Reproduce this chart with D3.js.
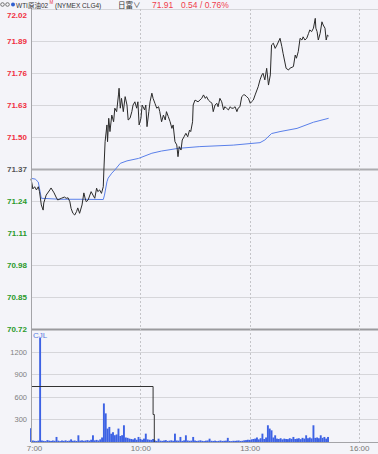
<!DOCTYPE html>
<html>
<head>
<meta charset="utf-8">
<script src="https://cdn.jsdelivr.net/npm/d3@7"></script>
<style>
body { margin: 0; background: #f4f4f9; }
svg { display: block; font-family: "Liberation Sans", Arial, sans-serif; }
</style>
</head>
<body>
<svg width="378" height="454"></svg>
<script>
// price ticks / time ticks / volume ticks
let priceTicks = [72.02, 71.89, 71.76, 71.63, 71.50, 71.37, 71.24, 71.11, 70.98, 70.85, 70.72];
let prevClose = 71.37;
let volTicks = [300, 600, 900, 1200];
let timeTicks = ["7:00", "10:00", "13:00", "16:00"];

// last price (time, price)
let priceSeries = [
  ["7:00",71.33],["7:02",71.305],["7:03",71.289],["7:06",71.298],["7:09",71.285],["7:12",71.298],["7:14",71.278],["7:17",71.224],["7:20",71.203],["7:21",71.232],
  ["7:25",71.264],["7:31",71.285],["7:33",71.293],["7:38",71.273],["7:42",71.252],["7:44",71.244],["7:50",71.251],["7:55",71.256],["7:58",71.251],["8:01",71.253],
  ["8:04",71.237],["8:06",71.21],["8:09",71.19],["8:12",71.183],["8:15",71.197],["8:17",71.212],["8:20",71.19],["8:24",71.224],["8:27",71.273],["8:29",71.252],
  ["8:31",71.237],["8:34",71.244],["8:39",71.278],["8:42",71.264],["8:45",71.251],["8:48",71.292],["8:50",71.278],["8:53",71.285],["8:56",71.271],["8:59",71.298],
  ["9:00",71.366],["9:02",71.481],["9:05",71.549],["9:06",71.481],["9:08",71.576],["9:10",71.522],["9:13",71.589],["9:16",71.562],["9:18",71.617],["9:21",71.603],
  ["9:24",71.671],["9:25",71.698],["9:27",71.617],["9:29",71.657],["9:32",71.603],["9:35",71.664],["9:38",71.63],["9:40",71.569],["9:43",71.576],["9:46",71.603],
  ["9:48",71.63],["9:51",71.643],["9:54",71.617],["9:56",71.643],["9:58",71.549],["10:01",71.576],["10:03",71.63],["10:07",71.61],["10:09",71.63],["10:11",71.542],
  ["10:14",71.603],["10:16",71.643],["10:19",71.678],["10:21",71.657],["10:24",71.637],["10:27",71.617],["10:30",71.623],["10:32",71.603],["10:35",71.562],["10:38",71.589],
  ["10:41",71.569],["10:43",71.603],["10:46",71.583],["10:49",71.562],["10:52",71.535],["10:54",71.549],["10:57",71.481],["11:00",71.468],["11:02",71.42],["11:04",71.461],
  ["11:07",71.447],["11:09",71.488],["11:12",71.501],["11:15",71.515],["11:18",71.501],["11:21",71.528],["11:23",71.522],["11:26",71.562],["11:27",71.63],["11:30",71.65],
  ["11:35",71.643],["11:41",71.657],["11:44",71.671],["11:47",71.657],["11:49",71.664],["11:52",71.65],["11:55",71.643],["11:58",71.637],["12:00",71.603],["12:03",71.63],
  ["12:06",71.637],["12:08",71.623],["12:11",71.657],["12:14",71.643],["12:17",71.61],["12:19",71.623],["12:22",71.617],["12:25",71.61],["12:28",71.623],["12:30",71.617],
  ["12:33",71.617],["12:36",71.623],["12:39",71.603],["12:41",71.617],["12:44",71.623],["12:47",71.664],["12:50",71.671],["12:52",71.671],["12:55",71.664],["12:58",71.657],
  ["13:01",71.637],["13:03",71.643],["13:06",71.65],["13:09",71.671],["13:12",71.691],["13:14",71.704],["13:17",71.732],["13:20",71.752],["13:22",71.759],["13:25",71.732],
  ["13:28",71.779],["13:31",71.711],["13:34",71.752],["13:36",71.874],["13:39",71.881],["13:42",71.86],["13:45",71.874],["13:50",71.901],["13:53",71.867],["13:55",71.84],
  ["14:00",71.779],["14:04",71.772],["14:06",71.779],["14:12",71.786],["14:15",71.833],["14:17",71.82],["14:20",71.847],["14:23",71.901],["14:26",71.894],["14:28",71.907],
  ["14:31",71.894],["14:34",71.901],["14:37",71.921],["14:39",71.935],["14:42",71.928],["14:45",71.942],["14:48",71.982],["14:49",71.942],["14:51",71.928],["14:53",71.894],
  ["14:56",71.921],["14:59",71.968],["15:01",71.955],["15:04",71.942],["15:06",71.894],["15:08",71.914],["15:10",71.91]
];

// average price line
let avgSeries = [
  ["7:00",71.332],["7:07",71.329],["7:12",71.317],["7:17",71.251],["7:48",71.247],["8:21",71.247],["8:59",71.246],
  ["9:01",71.264],["9:05",71.318],["9:07",71.333],["9:13",71.353],["9:18",71.366],["9:27",71.393],["9:38",71.403],
  ["9:57",71.413],["10:19",71.434],["10:35",71.443],["11:03",71.454],["11:38",71.461],["12:33",71.467],["13:17",71.477],
  ["13:25",71.488],["13:36",71.514],["13:50",71.522],["14:18",71.535],["14:45",71.560],["15:10",71.576]
];

// volume (CJL), one bar every 3 minutes from 7:00
let volStart = "7:00";
let volStep = 3;
let volumes = [
  183,20,15,12,18,1380,20,15,12,25, 18,14,20,16,67,18,12,20,15,22,
  14,18,35,16,20,14,89,18,22,16, 20,25,18,30,89,22,28,20,35,60,
  512,380,178,200,110,130,90,100,178,80, 90,222,60,55,45,40,35,50,30,67,
  40,30,45,111,35,30,28,40,20,15, 44,18,15,20,25,14,18,22,16,111,
  20,18,67,15,22,89,20,16,18,67, 20,14,18,22,15,12,18,20,44,16,
  14,18,12,15,20,14,16,18,55,14, 12,16,15,18,20,14,16,22,25,30,
  28,35,40,45,60,35,50,111,40,60, 222,178,155,60,89,45,40,50,35,45,
  40,38,50,42,67,40,45,50,38,55, 45,89,50,60,48,222,55,60,50,89,
  55,67,45,67
];

// black step line in the volume panel
let oiSeries = [["7:00",750],["10:21",370],["10:23",0],["15:10",0]];

const toMin = s => { let p = s.split(":"); return +p[0] * 60 + +p[1]; };

let svg = d3.select("svg");
let left = 31, width = 378;

let x = d3.scaleLinear().domain([toMin("7:00"), toMin("16:00")]).range([31, 359]);
let y = d3.scaleLinear().domain([70.72, 72.02]).range([329, 9]);
let yv = d3.scaleLinear().domain([0, 1500]).range([442, 329]);

// gridlines price
svg.append("g").selectAll("line")
  .data(priceTicks)
  .enter().append("line")
  .attr("x1", left).attr("x2", width)
  .attr("y1", d => Math.round(y(d)) + 0.5)
  .attr("y2", d => Math.round(y(d)) + 0.5)
  .attr("stroke", d => d === prevClose ? "#acacb0" : (d === 70.72 ? "#9a9a9e" : "#d6d6da"))
  .attr("stroke-width", d => (d === prevClose || d === 70.72) ? 2 : 1);

// gridlines volume
svg.append("g").selectAll("line")
  .data(volTicks)
  .enter().append("line")
  .attr("x1", left).attr("x2", width)
  .attr("y1", d => Math.round(yv(d)) + 0.5)
  .attr("y2", d => Math.round(yv(d)) + 0.5)
  .attr("stroke", "#d6d6da");

// vertical dotted time lines
svg.append("g").selectAll("line")
  .data(timeTicks.slice(1))
  .enter().append("line")
  .attr("x1", d => Math.round(x(toMin(d))) + 0.5)
  .attr("x2", d => Math.round(x(toMin(d))) + 0.5)
  .attr("y1", 9).attr("y2", 442)
  .attr("stroke", "#c4c4c8")
  .attr("stroke-dasharray", "2,2");

// volume bars
svg.append("g").selectAll("rect")
  .data(volumes)
  .enter().append("rect")
  .attr("x", (d, i) => x(toMin(volStart) + i * volStep) - 0.95)
  .attr("width", 1.9)
  .attr("y", d => yv(d))
  .attr("height", d => yv(0) - yv(d))
  .attr("fill", "#3d62e4");

// step line
svg.append("path")
  .datum(oiSeries)
  .attr("fill", "none")
  .attr("stroke", "#333")
  .attr("stroke-width", 1)
  .attr("d", d3.line().curve(d3.curveStepAfter)
    .x(d => x(toMin(d[0])))
    .y(d => Math.round(yv(d[1])) + 0.5));

// average line
svg.append("path")
  .datum(avgSeries)
  .attr("fill", "none")
  .attr("stroke", "#5a80ea")
  .attr("stroke-width", 1)
  .attr("d", d3.line().x(d => x(toMin(d[0]))).y(d => y(d[1])));

// price line
svg.append("path")
  .datum(priceSeries)
  .attr("fill", "none")
  .attr("stroke", "#2a2a2a")
  .attr("stroke-width", 1)
  .attr("d", d3.line().x(d => x(toMin(d[0]))).y(d => y(d[1])));

// borders
svg.append("line").attr("x1", 31.5).attr("x2", 31.5).attr("y1", 9).attr("y2", 442)
  .attr("stroke", "#a4a4a8");
svg.append("line").attr("x1", left).attr("x2", width).attr("y1", 442.5).attr("y2", 442.5)
  .attr("stroke", "#a4a4a8");

// price axis
let gy = svg.append("g")
  .attr("transform", "translate(" + left + ",0)")
  .call(d3.axisLeft(y).tickValues(priceTicks).tickSize(0).tickPadding(4).tickFormat(d3.format(".2f")));
gy.select(".domain").remove();
gy.selectAll("text")
  .style("font-size", "8px")
  .style("font-weight", "bold")
  .style("font-family", "'Liberation Sans', Arial, sans-serif")
  .attr("fill", d => d > prevClose ? "#f0303e" : (d < prevClose ? "#2a9a2a" : "#555"))
  .attr("dy", d => d === 72.02 ? "1.0em" : "0.32em");

// volume axis
let gv = svg.append("g")
  .attr("transform", "translate(" + left + ",0)")
  .call(d3.axisLeft(yv).tickValues(volTicks).tickSize(0).tickPadding(4).tickFormat(d3.format("d")));
gv.select(".domain").remove();
gv.selectAll("text")
  .style("font-size", "7.5px")
  .style("font-family", "'Liberation Sans', Arial, sans-serif")
  .attr("fill", "#808080");

// time axis
let gx = svg.append("g")
  .attr("transform", "translate(0,442)")
  .call(d3.axisBottom(x).tickValues(timeTicks.map(toMin)).tickSize(0).tickPadding(3)
    .tickFormat(d => Math.floor(d / 60) + ":" + d3.format("02")(d % 60)));
gx.select(".domain").remove();
gx.selectAll("text")
  .style("font-size", "8px")
  .style("font-family", "'Liberation Sans', Arial, sans-serif")
  .attr("fill", "#777")
  .attr("dx", (d, i) => i === 0 ? 3 : 0);

// CJL label
svg.append("text").attr("x", 33).attr("y", 338)
  .style("font-size", "8px").attr("fill", "#5a7ce0").text("CJL");

// header
let head = svg.append("g").style("font-size", "6.5px");
// little "oo" icon
head.selectAll("circle.ic").data([2.5, 7.5]).enter().append("circle")
  .attr("class", "ic").attr("cx", d => d).attr("cy", 4.5).attr("r", 1.8)
  .attr("fill", "none").attr("stroke", "#666").attr("stroke-width", 0.9);
head.append("circle").attr("cx", 13).attr("cy", 4.5).attr("r", 2).attr("fill", "#2f5fd0");
head.append("text").attr("x", 16).attr("y", 7.5).attr("fill", "#333")
  .style("font-family", "'Liberation Sans', 'Noto Sans CJK SC', sans-serif").text("WTI原油02");
head.append("text").attr("x", 49.5).attr("y", 4).attr("fill", "#e8303e").style("font-size", "4.5px").text("M");
head.append("text").attr("x", 55).attr("y", 7.5).attr("fill", "#333").text("(NYMEX CLG4)");
head.append("text").attr("x", 118).attr("y", 7.5).attr("fill", "#333").style("font-size", "7.5px")
  .style("font-family", "'Noto Sans CJK SC', sans-serif").text("日富∨");
head.append("text").attr("x", 152).attr("y", 8).attr("fill", "#f03c4c").style("font-size", "8.5px").text("71.91");
head.append("text").attr("x", 181).attr("y", 8).attr("fill", "#f03c4c").style("font-size", "8.5px").text("0.54 / 0.76%");
</script>
</body>
</html>
